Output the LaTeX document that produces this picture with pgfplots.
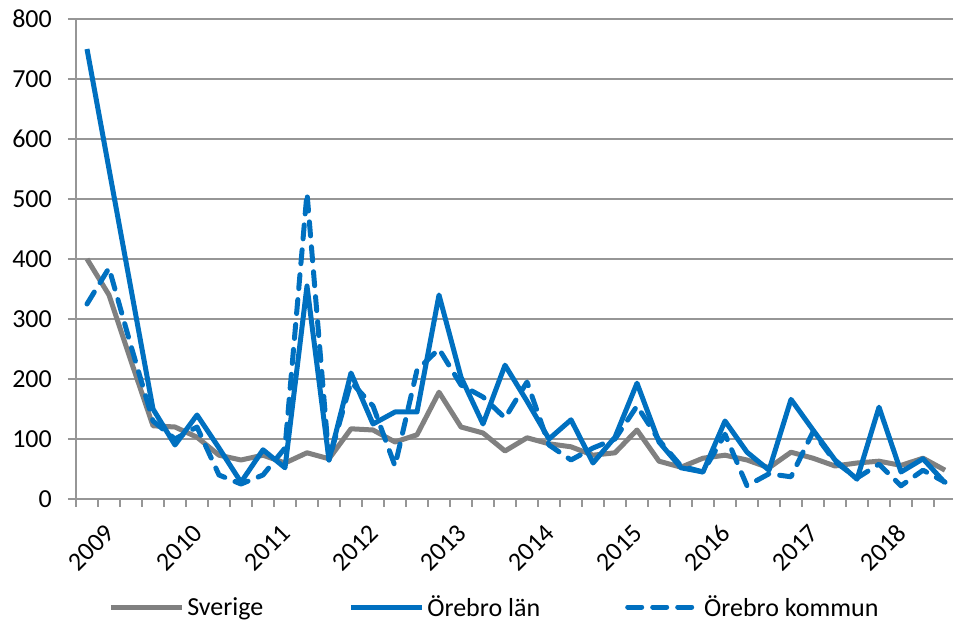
\documentclass[border=0pt]{standalone}
\usepackage{fontspec}
\setmainfont{Carlito}
\usepackage{pgfplots}
\usepackage{pgfplotstable}
\pgfplotsset{compat=1.18}
\definecolor{xlblue}{RGB}{0,112,192}
\definecolor{xlgray}{RGB}{128,128,128}
\definecolor{gridgray}{RGB}{150,150,150}

\pgfplotstableread{
x S L K
0 400 750 325
1 340 550 385
2 230 350 255
3 122 150 130
4 120 90 100
5 103 140 120
6 73 85 40
7 65 28 25
8 73 82 40
9 60 52 85
10 77 355 510
11 67 65 65
12 117 210 195
13 115 125 155
14 95 145 55
15 107 145 215
16 178 340 250
17 120 203 190
18 110 125 170
19 80 223 135
20 102 163 195
21 92 100 90
22 87 132 65
23 73 60 85
24 77 103 100
25 115 193 155
26 63 95 98
27 53 52 55
28 68 45 45
29 73 130 108
30 65 78 22
31 52 48 42
32 78 166 37
33 68 115 112
34 55 65 62
35 60 33 35
36 63 153 58
37 56 45 22
38 68 67 48
39 48 27 28
}\datatable

\begin{document}
\begin{tikzpicture}[x=1bp,y=1bp]
\path[use as bounding box] (0,0) rectangle (953,620);
\begin{axis}[
  at={(76bp,121bp)}, anchor=south west,
  width=880bp, height=480bp, scale only axis,
  xmin=-0.5, xmax=39.5, ymin=0, ymax=800,
  axis lines=left,
  axis line style={-, gridgray, line width=1.5bp},
  ytick={0,100,...,800},
  ymajorgrids,
  grid style={gridgray, line width=1.5bp},
  xtick={0,4,...,36},
  xticklabels={2009,2010,2011,2012,2013,2014,2015,2016,2017,2018},
  minor xtick={-0.5,0.5,...,39.5},
  tick align=outside,
  major tick length=8bp,
  minor tick length=8bp,
  major x tick style={draw=none},
  tick style={gridgray, line width=1.5bp},
  /pgf/number format/assume math mode=true,
  ticklabel style={font=\fontsize{26bp}{30bp}\selectfont, text=black},
  yticklabel style={anchor=east, inner sep=0pt, xshift=-16bp},
  xticklabel style={xshift=23bp, yshift=-22bp, rotate=45, anchor=east, inner sep=0pt},
  legend columns=3,
  legend style={draw=none, fill=none, at={(0.476,-0.225)}, anchor=center,
    font=\fontsize{26bp}{30bp}\selectfont,
    /tikz/every even column/.append style={column sep=82bp},
    nodes={inner sep=3bp}},
  legend image code/.code={\draw[#1] (0bp,0bp) -- (71bp,0bp);},
]
\addplot[xlgray, line width=5bp, line join=round] table[x=x, y=S] {\datatable};
\addlegendentry{Sverige}
\addplot[xlblue, line width=5bp, line join=round] table[x=x, y=L] {\datatable};
\addlegendentry{Örebro län}
\addplot[xlblue, line width=5bp, line join=round, line cap=round, dash pattern=on 14bp off 11bp] table[x=x, y=K] {\datatable};
\addlegendentry{Örebro kommun}
\end{axis}
\end{tikzpicture}
\end{document}
